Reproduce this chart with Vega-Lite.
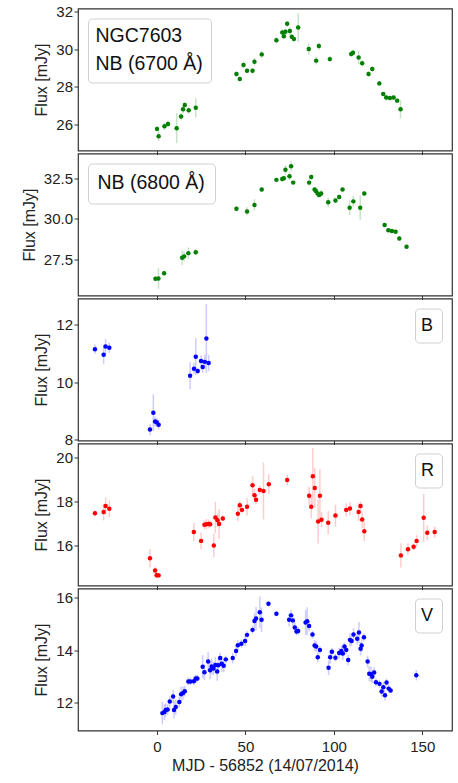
{
  "$schema": "https://vega.github.io/schema/vega-lite/v6.json",
  "padding": {"left": 20, "top": 3.5, "right": 6, "bottom": 5},
  "spacing": 3,
  "bounds": "flush",
  "config": {
    "font": "Liberation Sans",
    "view": {"stroke": "#333333", "strokeWidth": 1.2},
    "axis": {"grid": false, "domain": false, "labelFontSize": 15, "titleFontSize": 16, "titleFontWeight": "normal", "labelColor": "#222222", "titleColor": "#222222", "tickColor": "#333333", "tickSize": 4, "tickWidth": 1},
    "legend": {"title": null, "symbolOpacity": 0, "symbolSize": 0, "symbolStrokeWidth": 0, "labelColor": "#111111", "fillColor": "white", "strokeColor": "#d0d0d0", "cornerRadius": 4, "offset": 10}
  },
  "datasets": {
    "nb6700": [
      {"mjd": 0.0, "flux": 25.79, "err": 0.15}, {"mjd": 0.9, "flux": 25.40, "err": 0.26}, {"mjd": 4.2, "flux": 25.93, "err": 0.2}, {"mjd": 6.2, "flux": 26.05, "err": 0.18}, {"mjd": 11.1, "flux": 25.82, "err": 0.79}, {"mjd": 13.6, "flux": 26.44, "err": 0.2}, {"mjd": 14.7, "flux": 26.82, "err": 0.2}, {"mjd": 15.7, "flux": 27.05, "err": 0.15}, {"mjd": 17.9, "flux": 26.77, "err": 0.15}, {"mjd": 21.9, "flux": 26.91, "err": 0.5},
      {"mjd": 44.9, "flux": 28.68, "err": 0.15}, {"mjd": 46.8, "flux": 28.42, "err": 0.12}, {"mjd": 48.9, "flux": 29.16, "err": 0.17}, {"mjd": 50.9, "flux": 28.86, "err": 0.12}, {"mjd": 54.0, "flux": 28.86, "err": 0.15}, {"mjd": 55.1, "flux": 29.33, "err": 0.2}, {"mjd": 59.2, "flux": 29.72, "err": 0.2},
      {"mjd": 67.5, "flux": 30.46, "err": 0.15}, {"mjd": 70.8, "flux": 30.88, "err": 0.15}, {"mjd": 71.7, "flux": 30.68, "err": 0.15}, {"mjd": 72.6, "flux": 30.91, "err": 0.18}, {"mjd": 73.6, "flux": 31.33, "err": 0.15}, {"mjd": 75.1, "flux": 30.95, "err": 0.2}, {"mjd": 76.2, "flux": 30.65, "err": 0.12}, {"mjd": 77.4, "flux": 30.53, "err": 0.12}, {"mjd": 79.8, "flux": 31.14, "err": 0.75},
      {"mjd": 85.8, "flux": 30.0, "err": 0.3}, {"mjd": 90.0, "flux": 29.39, "err": 0.2}, {"mjd": 91.5, "flux": 30.16, "err": 0.2}, {"mjd": 97.7, "flux": 29.47, "err": 0.15},
      {"mjd": 109.8, "flux": 29.74, "err": 0.15}, {"mjd": 110.8, "flux": 29.81, "err": 0.15}, {"mjd": 114.0, "flux": 29.56, "err": 0.35}, {"mjd": 116.0, "flux": 29.25, "err": 0.15}, {"mjd": 119.6, "flux": 28.68, "err": 0.15}, {"mjd": 121.7, "flux": 28.95, "err": 0.15},
      {"mjd": 125.7, "flux": 28.19, "err": 0.12}, {"mjd": 127.9, "flux": 27.63, "err": 0.1}, {"mjd": 129.6, "flux": 27.44, "err": 0.15}, {"mjd": 131.7, "flux": 27.42, "err": 0.1}, {"mjd": 133.8, "flux": 27.44, "err": 0.1}, {"mjd": 135.8, "flux": 27.28, "err": 0.12}, {"mjd": 137.7, "flux": 26.82, "err": 0.48}
    ],
    "nb6800": [
      {"mjd": -0.9, "flux": 26.28, "err": 0.15}, {"mjd": 0.8, "flux": 26.30, "err": 0.64}, {"mjd": 4.0, "flux": 26.63, "err": 0.15}, {"mjd": 14.2, "flux": 27.58, "err": 0.45}, {"mjd": 15.3, "flux": 27.67, "err": 0.3}, {"mjd": 17.7, "flux": 27.87, "err": 0.35}, {"mjd": 21.9, "flux": 27.93, "err": 0.2},
      {"mjd": 44.9, "flux": 30.62, "err": 0.15}, {"mjd": 50.9, "flux": 30.45, "err": 0.25}, {"mjd": 55.1, "flux": 30.85, "err": 0.35}, {"mjd": 59.2, "flux": 31.80, "err": 0.15},
      {"mjd": 67.5, "flux": 32.40, "err": 0.1}, {"mjd": 70.8, "flux": 32.46, "err": 0.15}, {"mjd": 71.7, "flux": 32.50, "err": 0.15}, {"mjd": 72.6, "flux": 33.02, "err": 0.28}, {"mjd": 74.9, "flux": 32.62, "err": 0.25}, {"mjd": 75.8, "flux": 33.24, "err": 0.33}, {"mjd": 77.0, "flux": 32.23, "err": 0.1},
      {"mjd": 86.0, "flux": 32.23, "err": 0.2}, {"mjd": 87.2, "flux": 32.58, "err": 0.15}, {"mjd": 89.1, "flux": 31.80, "err": 0.15}, {"mjd": 89.8, "flux": 31.71, "err": 0.15}, {"mjd": 90.8, "flux": 31.55, "err": 0.25}, {"mjd": 91.7, "flux": 31.47, "err": 0.15}, {"mjd": 92.8, "flux": 31.55, "err": 0.2},
      {"mjd": 96.8, "flux": 31.01, "err": 0.3}, {"mjd": 100.9, "flux": 31.12, "err": 0.15}, {"mjd": 103.0, "flux": 31.34, "err": 0.15}, {"mjd": 104.9, "flux": 31.80, "err": 0.12}, {"mjd": 108.9, "flux": 30.68, "err": 0.45}, {"mjd": 111.0, "flux": 31.07, "err": 0.35}, {"mjd": 114.9, "flux": 30.68, "err": 0.75}, {"mjd": 117.2, "flux": 31.55, "err": 0.15},
      {"mjd": 128.7, "flux": 29.61, "err": 0.12}, {"mjd": 130.8, "flux": 29.28, "err": 0.12}, {"mjd": 132.8, "flux": 29.24, "err": 0.1}, {"mjd": 134.9, "flux": 29.19, "err": 0.1}, {"mjd": 137.0, "flux": 28.78, "err": 0.15}, {"mjd": 141.1, "flux": 28.26, "err": 0.12}
    ],
    "bband": [
      {"mjd": -35.1, "flux": 11.15, "err": 0.16}, {"mjd": -30.2, "flux": 10.96, "err": 0.33}, {"mjd": -29.1, "flux": 11.24, "err": 0.26}, {"mjd": -27.0, "flux": 11.20, "err": 0.18},
      {"mjd": -4.0, "flux": 8.36, "err": 0.2}, {"mjd": -2.1, "flux": 8.94, "err": 0.64}, {"mjd": -1.1, "flux": 8.64, "err": 0.17}, {"mjd": -0.2, "flux": 8.61, "err": 0.15}, {"mjd": 0.9, "flux": 8.53, "err": 0.17},
      {"mjd": 18.7, "flux": 10.23, "err": 0.47}, {"mjd": 20.9, "flux": 10.47, "err": 0.2}, {"mjd": 21.9, "flux": 10.89, "err": 0.64}, {"mjd": 23.0, "flux": 10.39, "err": 0.1}, {"mjd": 24.9, "flux": 10.74, "err": 0.2}, {"mjd": 25.8, "flux": 10.53, "err": 0.2}, {"mjd": 27.0, "flux": 10.71, "err": 0.25}, {"mjd": 27.9, "flux": 11.52, "err": 1.2}, {"mjd": 29.2, "flux": 10.67, "err": 0.28}
    ],
    "rband": [
      {"mjd": -35.1, "flux": 17.47, "err": 0.15}, {"mjd": -30.2, "flux": 17.52, "err": 0.38}, {"mjd": -29.1, "flux": 17.80, "err": 0.38}, {"mjd": -27.0, "flux": 17.67, "err": 0.38},
      {"mjd": -4.0, "flux": 15.42, "err": 0.42}, {"mjd": -1.1, "flux": 14.86, "err": 0.18}, {"mjd": -0.2, "flux": 14.65, "err": 0.15}, {"mjd": 0.9, "flux": 14.64, "err": 0.1},
      {"mjd": 20.8, "flux": 16.61, "err": 0.42}, {"mjd": 24.9, "flux": 16.21, "err": 0.38}, {"mjd": 26.8, "flux": 16.94, "err": 0.2}, {"mjd": 27.9, "flux": 16.97, "err": 0.24}, {"mjd": 29.1, "flux": 16.98, "err": 0.2}, {"mjd": 30.0, "flux": 16.97, "err": 0.15}, {"mjd": 32.1, "flux": 16.0, "err": 0.53}, {"mjd": 33.0, "flux": 17.27, "err": 0.72}, {"mjd": 34.2, "flux": 17.15, "err": 0.3}, {"mjd": 35.1, "flux": 16.98, "err": 0.68}, {"mjd": 37.2, "flux": 17.23, "err": 0.15},
      {"mjd": 45.7, "flux": 17.44, "err": 0.34}, {"mjd": 46.8, "flux": 17.83, "err": 0.2}, {"mjd": 48.0, "flux": 17.62, "err": 0.15}, {"mjd": 50.9, "flux": 17.76, "err": 0.4}, {"mjd": 54.0, "flux": 18.74, "err": 0.42}, {"mjd": 55.1, "flux": 18.29, "err": 0.3}, {"mjd": 56.0, "flux": 18.08, "err": 0.2}, {"mjd": 58.1, "flux": 18.53, "err": 0.2}, {"mjd": 60.2, "flux": 18.48, "err": 1.29}, {"mjd": 63.2, "flux": 18.79, "err": 0.45}, {"mjd": 73.6, "flux": 18.98, "err": 0.24},
      {"mjd": 86.0, "flux": 18.26, "err": 0.42}, {"mjd": 87.2, "flux": 17.76, "err": 0.53}, {"mjd": 88.1, "flux": 19.15, "err": 1.29}, {"mjd": 89.2, "flux": 18.62, "err": 0.9}, {"mjd": 91.1, "flux": 17.09, "err": 1.0}, {"mjd": 92.1, "flux": 18.26, "err": 1.2}, {"mjd": 93.0, "flux": 17.17, "err": 0.34}, {"mjd": 96.8, "flux": 17.03, "err": 0.53}, {"mjd": 100.9, "flux": 17.36, "err": 0.5},
      {"mjd": 107.0, "flux": 17.62, "err": 0.3}, {"mjd": 109.1, "flux": 17.68, "err": 0.3}, {"mjd": 114.0, "flux": 17.52, "err": 0.42}, {"mjd": 115.1, "flux": 17.80, "err": 0.2}, {"mjd": 116.0, "flux": 17.18, "err": 0.38}, {"mjd": 117.2, "flux": 16.65, "err": 0.45},
      {"mjd": 137.9, "flux": 15.55, "err": 0.55}, {"mjd": 141.9, "flux": 15.83, "err": 0.26}, {"mjd": 145.1, "flux": 15.94, "err": 0.15}, {"mjd": 146.8, "flux": 16.21, "err": 0.26}, {"mjd": 150.8, "flux": 17.26, "err": 1.1}, {"mjd": 152.8, "flux": 16.58, "err": 0.34}, {"mjd": 157.0, "flux": 16.61, "err": 0.26}
    ],
    "vband": [
      {"mjd": 3.0, "flux": 11.61, "err": 0.42}, {"mjd": 4.2, "flux": 11.65, "err": 0.3}, {"mjd": 4.9, "flux": 11.73, "err": 0.25}, {"mjd": 6.0, "flux": 11.75, "err": 0.2}, {"mjd": 7.2, "flux": 12.05, "err": 0.2}, {"mjd": 9.1, "flux": 12.24, "err": 0.25}, {"mjd": 9.6, "flux": 11.73, "err": 0.32}, {"mjd": 10.6, "flux": 11.84, "err": 0.3}, {"mjd": 12.6, "flux": 12.03, "err": 0.2}, {"mjd": 13.6, "flux": 12.33, "err": 0.28}, {"mjd": 14.7, "flux": 12.37, "err": 0.25}, {"mjd": 15.7, "flux": 12.44, "err": 0.2},
      {"mjd": 17.7, "flux": 12.81, "err": 0.15}, {"mjd": 18.9, "flux": 12.81, "err": 0.15}, {"mjd": 20.8, "flux": 12.82, "err": 0.15}, {"mjd": 21.9, "flux": 12.92, "err": 0.15}, {"mjd": 22.8, "flux": 12.92, "err": 0.15}, {"mjd": 25.8, "flux": 13.37, "err": 0.44}, {"mjd": 26.8, "flux": 13.16, "err": 0.3}, {"mjd": 28.9, "flux": 13.57, "err": 0.35}, {"mjd": 30.0, "flux": 13.24, "err": 0.35}, {"mjd": 30.9, "flux": 13.38, "err": 0.3}, {"mjd": 31.9, "flux": 13.30, "err": 0.25}, {"mjd": 33.0, "flux": 13.44, "err": 0.3}, {"mjd": 34.0, "flux": 13.19, "err": 0.35}, {"mjd": 34.7, "flux": 13.43, "err": 0.3}, {"mjd": 35.7, "flux": 13.70, "err": 0.2}, {"mjd": 36.6, "flux": 13.48, "err": 0.3}, {"mjd": 37.7, "flux": 13.41, "err": 0.25}, {"mjd": 38.9, "flux": 13.65, "err": 0.15},
      {"mjd": 42.8, "flux": 13.70, "err": 0.2}, {"mjd": 44.7, "flux": 13.97, "err": 0.2}, {"mjd": 45.7, "flux": 14.19, "err": 0.2}, {"mjd": 47.7, "flux": 14.24, "err": 0.15}, {"mjd": 49.8, "flux": 14.35, "err": 0.2}, {"mjd": 50.9, "flux": 14.58, "err": 0.15}, {"mjd": 54.0, "flux": 14.77, "err": 0.16}, {"mjd": 55.1, "flux": 15.11, "err": 0.28}, {"mjd": 56.0, "flux": 15.20, "err": 0.44}, {"mjd": 58.1, "flux": 15.44, "err": 0.6}, {"mjd": 59.1, "flux": 15.15, "err": 0.47}, {"mjd": 63.0, "flux": 15.76, "err": 0.1}, {"mjd": 67.5, "flux": 15.38, "err": 0.1},
      {"mjd": 74.7, "flux": 15.15, "err": 0.25}, {"mjd": 75.8, "flux": 15.32, "err": 0.2}, {"mjd": 76.8, "flux": 15.13, "err": 0.2}, {"mjd": 77.9, "flux": 14.86, "err": 0.2}, {"mjd": 78.9, "flux": 14.71, "err": 0.15}, {"mjd": 79.8, "flux": 14.73, "err": 0.15}, {"mjd": 84.0, "flux": 15.05, "err": 0.47}, {"mjd": 84.9, "flux": 15.10, "err": 0.53}, {"mjd": 86.0, "flux": 14.92, "err": 0.2}, {"mjd": 87.9, "flux": 14.59, "err": 0.15}, {"mjd": 89.1, "flux": 14.18, "err": 0.2}, {"mjd": 90.0, "flux": 14.14, "err": 0.2}, {"mjd": 90.9, "flux": 13.73, "err": 0.2}, {"mjd": 92.1, "flux": 14.01, "err": 0.15},
      {"mjd": 97.0, "flux": 13.33, "err": 0.28}, {"mjd": 97.9, "flux": 13.73, "err": 0.25}, {"mjd": 98.9, "flux": 13.94, "err": 0.15}, {"mjd": 100.9, "flux": 13.71, "err": 0.15}, {"mjd": 103.0, "flux": 13.89, "err": 0.2}, {"mjd": 104.2, "flux": 13.97, "err": 0.2}, {"mjd": 105.1, "flux": 13.87, "err": 0.25}, {"mjd": 106.0, "flux": 14.14, "err": 0.15}, {"mjd": 107.0, "flux": 14.01, "err": 0.15}, {"mjd": 108.1, "flux": 13.63, "err": 0.2}, {"mjd": 109.1, "flux": 14.39, "err": 0.25}, {"mjd": 110.0, "flux": 14.35, "err": 0.2}, {"mjd": 111.1, "flux": 14.59, "err": 0.25}, {"mjd": 113.2, "flux": 14.43, "err": 0.22}, {"mjd": 114.2, "flux": 14.67, "err": 0.4}, {"mjd": 115.1, "flux": 14.05, "err": 0.25}, {"mjd": 115.7, "flux": 14.18, "err": 0.25}, {"mjd": 117.0, "flux": 14.49, "err": 0.15},
      {"mjd": 119.1, "flux": 13.57, "err": 0.22}, {"mjd": 120.0, "flux": 13.10, "err": 0.28}, {"mjd": 121.0, "flux": 13.09, "err": 0.3}, {"mjd": 121.7, "flux": 12.99, "err": 0.25}, {"mjd": 122.8, "flux": 13.15, "err": 0.2}, {"mjd": 123.8, "flux": 12.78, "err": 0.15}, {"mjd": 125.8, "flux": 12.72, "err": 0.15}, {"mjd": 127.0, "flux": 12.43, "err": 0.2}, {"mjd": 128.0, "flux": 12.59, "err": 0.2}, {"mjd": 128.9, "flux": 12.29, "err": 0.2}, {"mjd": 129.8, "flux": 12.77, "err": 0.15}, {"mjd": 131.0, "flux": 12.54, "err": 0.15}, {"mjd": 132.1, "flux": 12.47, "err": 0.1}, {"mjd": 146.6, "flux": 13.05, "err": 0.2}
    ]
  },
  "resolve": {"scale": {"y": "independent", "color": "independent"}, "legend": {"color": "independent"}},
  "vconcat": [
    {
      "width": 374, "height": 142,
      "data": {"name": "nb6700"},
      "encoding": {
        "x": {"field": "mjd", "type": "quantitative", "scale": {"domain": [-44.7, 166.8], "nice": false, "zero": false}, "axis": {"values": [0, 50, 100, 150], "labels": false, "title": null}},
        "y": {"field": "flux", "type": "quantitative", "scale": {"domain": [24.65, 32.14], "nice": false, "zero": false}, "axis": {"values": [26, 28, 30, 32], "title": "Flux [mJy]", "labelPadding": 1.5, "titlePadding": 6}}
      },
      "layer": [
        {"mark": {"type": "errorbar", "color": "green", "opacity": 0.22, "thickness": 1.5}, "encoding": {"yError": {"field": "err"}}},
        {"mark": {"type": "point", "filled": true, "size": 20, "opacity": 1, "color": "#007f00"},
         "encoding": {"color": {"datum": "NGC7603", "scale": {"domain": ["NGC7603", "NB (6700 Å)"], "range": ["#007f00", "#007f00"]},
           "legend": {"orient": "top-left", "labelFontSize": 19.5, "padding": 8, "rowPadding": 7, "labelLimit": 300, "labelOffset": -20}}}}
      ]
    },
    {
      "width": 374, "height": 142,
      "data": {"name": "nb6800"},
      "encoding": {
        "x": {"field": "mjd", "type": "quantitative", "scale": {"domain": [-44.7, 166.8], "nice": false, "zero": false}, "axis": {"values": [0, 50, 100, 150], "labels": false, "title": null}},
        "y": {"field": "flux", "type": "quantitative", "scale": {"domain": [25.25, 34.03], "nice": false, "zero": false}, "axis": {"values": [27.5, 30, 32.5], "format": ".1f", "title": "Flux [mJy]", "labelPadding": 1.5, "titlePadding": 6}}
      },
      "layer": [
        {"mark": {"type": "errorbar", "color": "green", "opacity": 0.22, "thickness": 1.5}, "encoding": {"yError": {"field": "err"}}},
        {"mark": {"type": "point", "filled": true, "size": 20, "opacity": 1},
         "encoding": {"color": {"datum": "NB (6800 Å)", "scale": {"range": ["#007f00"]},
           "legend": {"orient": "top-left", "labelFontSize": 19.5, "padding": 10, "labelLimit": 300, "labelOffset": -20}}}}
      ]
    },
    {
      "width": 374, "height": 142,
      "data": {"name": "bband"},
      "encoding": {
        "x": {"field": "mjd", "type": "quantitative", "scale": {"domain": [-44.7, 166.8], "nice": false, "zero": false}, "axis": {"values": [0, 50, 100, 150], "labels": false, "title": null}},
        "y": {"field": "flux", "type": "quantitative", "scale": {"domain": [7.98, 12.91], "nice": false, "zero": false}, "axis": {"values": [8, 10, 12], "title": "Flux [mJy]", "labelPadding": 1.5, "titlePadding": 6}}
      },
      "layer": [
        {"mark": {"type": "errorbar", "color": "blue", "opacity": 0.2, "thickness": 1.5}, "encoding": {"yError": {"field": "err"}}},
        {"mark": {"type": "point", "filled": true, "size": 20, "opacity": 1},
         "encoding": {"color": {"datum": "B", "scale": {"range": ["blue"]},
           "legend": {"orient": "top-right", "labelFontSize": 18, "padding": 8, "labelOffset": -20}}}}
      ]
    },
    {
      "width": 374, "height": 142,
      "data": {"name": "rband"},
      "encoding": {
        "x": {"field": "mjd", "type": "quantitative", "scale": {"domain": [-44.7, 166.8], "nice": false, "zero": false}, "axis": {"values": [0, 50, 100, 150], "labels": false, "title": null}},
        "y": {"field": "flux", "type": "quantitative", "scale": {"domain": [14.18, 20.64], "nice": false, "zero": false}, "axis": {"values": [16, 18, 20], "title": "Flux [mJy]", "labelPadding": 1.5, "titlePadding": 6}}
      },
      "layer": [
        {"mark": {"type": "errorbar", "color": "red", "opacity": 0.2, "thickness": 1.5}, "encoding": {"yError": {"field": "err"}}},
        {"mark": {"type": "point", "filled": true, "size": 20, "opacity": 1},
         "encoding": {"color": {"datum": "R", "scale": {"range": ["red"]},
           "legend": {"orient": "top-right", "labelFontSize": 18, "padding": 8, "labelOffset": -20}}}}
      ]
    },
    {
      "width": 374, "height": 142,
      "data": {"name": "vband"},
      "encoding": {
        "x": {"field": "mjd", "type": "quantitative", "scale": {"domain": [-44.7, 166.8], "nice": false, "zero": false}, "axis": {"values": [0, 50, 100, 150], "title": "MJD - 56852 (14/07/2014)", "labelPadding": 5, "titlePadding": 3, "labelFlush": false}},
        "y": {"field": "flux", "type": "quantitative", "scale": {"domain": [10.95, 16.34], "nice": false, "zero": false}, "axis": {"values": [12, 14, 16], "title": "Flux [mJy]", "labelPadding": 1.5, "titlePadding": 6}}
      },
      "layer": [
        {"mark": {"type": "errorbar", "color": "blue", "opacity": 0.2, "thickness": 1.5}, "encoding": {"yError": {"field": "err"}}},
        {"mark": {"type": "point", "filled": true, "size": 20, "opacity": 1},
         "encoding": {"color": {"datum": "V", "scale": {"range": ["blue"]},
           "legend": {"orient": "top-right", "labelFontSize": 18, "padding": 8, "labelOffset": -20}}}}
      ]
    }
  ]
}
